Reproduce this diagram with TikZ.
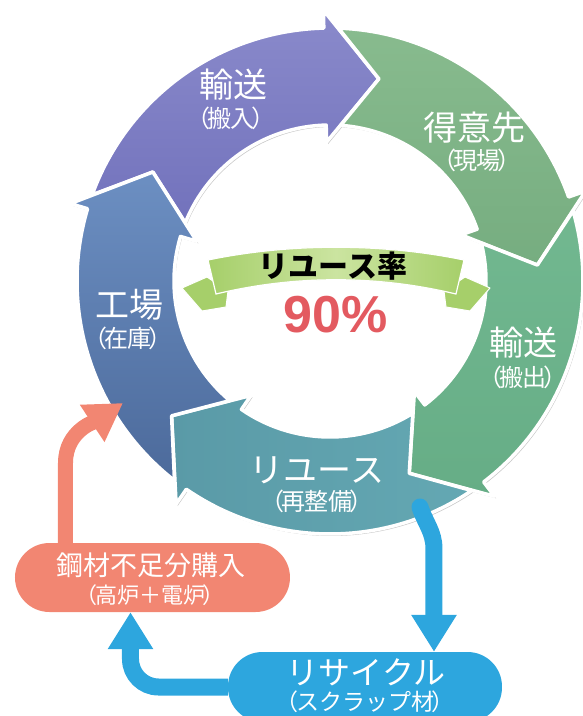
\documentclass[tikz,border=0pt]{standalone}
\usepackage{fontspec}
\setmainfont{Noto Sans CJK JP}
\newfontfamily\jp{Noto Sans CJK JP}
\newfontfamily\lat{Liberation Sans}
\usetikzlibrary{arrows.meta,calc}

\definecolor{cPurpleT}{HTML}{8A8ACB}
\definecolor{cPurpleB}{HTML}{7272BC}
\definecolor{cGreenT}{HTML}{88BB8E}
\definecolor{cGreenB}{HTML}{76AD80}
\definecolor{cGreenTwoT}{HTML}{72B890}
\definecolor{cGreenTwoB}{HTML}{66AD86}
\definecolor{cTealT}{HTML}{64A8B3}
\definecolor{cTealB}{HTML}{5A9AA7}
\definecolor{cBlueT}{HTML}{6C8FC2}
\definecolor{cBlueB}{HTML}{4C6A9B}
\definecolor{cSalmon}{HTML}{F28672}
\definecolor{cSky}{HTML}{2DA6DE}
\definecolor{ribA}{HTML}{A6CF6A}
\definecolor{ribB}{HTML}{CBE4A0}
\definecolor{pctred}{HTML}{E35A60}

\pgfdeclarelayer{ringlayer}
\pgfdeclarelayer{conn}
\pgfsetlayers{ringlayer,conn,main}

\newcommand\ringpath[1]{(#1+83.67:253) arc[start angle=#1+83.67, end angle=#1+15, radius=253pt] -- (#1+15:271) -- (#1:208) -- (#1+15:139) -- (#1+15:156) arc[start angle=#1+15, end angle=#1+81.67, radius=156pt] -- (#1+72:208) -- cycle}
\newcommand\paren[1]{（\kern-.13em #1\kern-.13em ）}

\tikzset{
  ringarrow/.style={draw=white, line width=3.5pt, line join=round},
  ringshadow/.style={fill=black, opacity=0.22},
  biglabel/.style={text=white, font=\jp\fontsize{34}{34}\selectfont, inner sep=0pt},
  sublabel/.style={text=white, font=\jp\fontsize{24}{24}\selectfont, inner sep=0pt},
  ribpart/.style={fill=ribA, draw=white, line width=1pt, line join=round},
  pill/.style={rectangle, rounded corners=34.5pt, inner sep=0pt},
  pilltext/.style={text=white, inner sep=0pt},
  recarrow/.style={draw=cSky, line width=17pt, line cap=round, -{Triangle[width=43pt,length=37pt]}},
  buyarrow/.style={draw=cSalmon, line width=15pt, -{Triangle[width=42pt,length=37pt]}},
}

\begin{document}
\begin{tikzpicture}[x=1pt,y=1pt]
\useasboundingbox (-330,-435) rectangle (252,281);

\begin{pgfonlayer}{ringlayer}
% ring shadows
\foreach \t in {76.4,4.4,-67.6,-139.6,148.4}
  \fill[ringshadow, shift={(1.5,-2)}] \ringpath{\t};

% ring arrows
\path[ringarrow, top color=cPurpleT, bottom color=cPurpleB] \ringpath{76.4};
\path[ringarrow, top color=cGreenT, bottom color=cGreenB] \ringpath{4.4};
\path[ringarrow, top color=cGreenTwoT, bottom color=cGreenTwoB] \ringpath{-67.6};
\path[ringarrow, left color=cTealB, right color=cTealT] \ringpath{-139.6};
\path[ringarrow, top color=cBlueT, bottom color=cBlueB] \ringpath{148.4};

% ring labels
\node[biglabel] (l1) at (-96,196) {輸送};
\node[sublabel] (l1s) at (-99,163) {\paren{搬入}};
\node[biglabel] (l2) at (145,153) {得意先};
\node[sublabel] (l2s) at (147,121) {\paren{現場}};
\node[biglabel] (l3) at (194,-62) {輸送};
\node[sublabel] (l3s) at (193,-96) {\paren{搬出}};
\node[biglabel] (l4) at (-13,-189) {リユース};
\node[sublabel] (l4s) at (-13,-220) {\paren{再整備}};
\node[biglabel] (l5) at (-200,-24) {工場};
\node[sublabel] (l5s) at (-202,-57) {\paren{在庫}};

% ribbon
\path[ribpart] (-148,-7) -- (-123,4) -- (-102,-10) -- (-104,-26) -- (-128,-30) -- cycle;
\path[ribpart] (160,-7) -- (135,4) -- (114,-10) -- (116,-26) -- (140,-30) -- cycle;
\path[draw=white, line width=1.2pt, left color=ribA, right color=ribA, middle color=ribB]
  (-122,21) .. controls (-40,38) and (52,38) .. (134,21) -- (126,-13)
  .. controls (47,6) and (-35,6) .. (-114,-13) -- cycle;
\node[inner sep=0pt, font=\jp\bfseries\fontsize{30}{30}\selectfont] (rate) at (3,15) {リユース率};
\node[inner sep=0pt, text=pctred, font=\lat\bfseries\fontsize{52}{52}\selectfont] (pct) at (6,-34) {90\%};
\end{pgfonlayer}

% boxes
\node[pill, fill=cSky, minimum width=274pt, minimum height=70pt] (recycle) at (35,-406) {};
\node[pill, fill=cSalmon, minimum width=275pt, minimum height=69pt] (buy) at (-177.5,-296.5) {};
\node[pilltext, font=\jp\fontsize{27}{27}\selectfont] (buy1) at (-178.5,-284) {鋼材不足分購入};
\node[pilltext, font=\jp\fontsize{22}{22}\selectfont] (buy2) at (-180,-314) {\paren{高炉＋電炉}};
\node[pilltext, font=\jp\fontsize{32}{32}\selectfont] (rec1) at (36,-391) {リサイクル};
\node[pilltext, font=\jp\fontsize{23}{23}\selectfont] (rec2) at (35,-421) {\paren{スクラップ材}};

% connectors
\coordinate (reuseout) at (90,-226);
\coordinate (dn) at (104,-268);
\coordinate (upx) at (-199.5,0);
\coordinate (sx) at (-264.5,0);
\coordinate (sbend) at (-264.5,-182);
\coordinate (buyend) at (-207,-122);

\begin{pgfonlayer}{conn}
\draw[recarrow] (reuseout) to[out=-72,in=90] (dn) -- (dn |- recycle.north);
\draw[recarrow, line cap=butt, rounded corners=28pt] (recycle.west) -| (upx |- buy.south);
\draw[buyarrow] (sx |- buy.north) -- (sbend) to[out=90,in=213.5] (buyend);
\end{pgfonlayer}
\end{tikzpicture}
\end{document}
